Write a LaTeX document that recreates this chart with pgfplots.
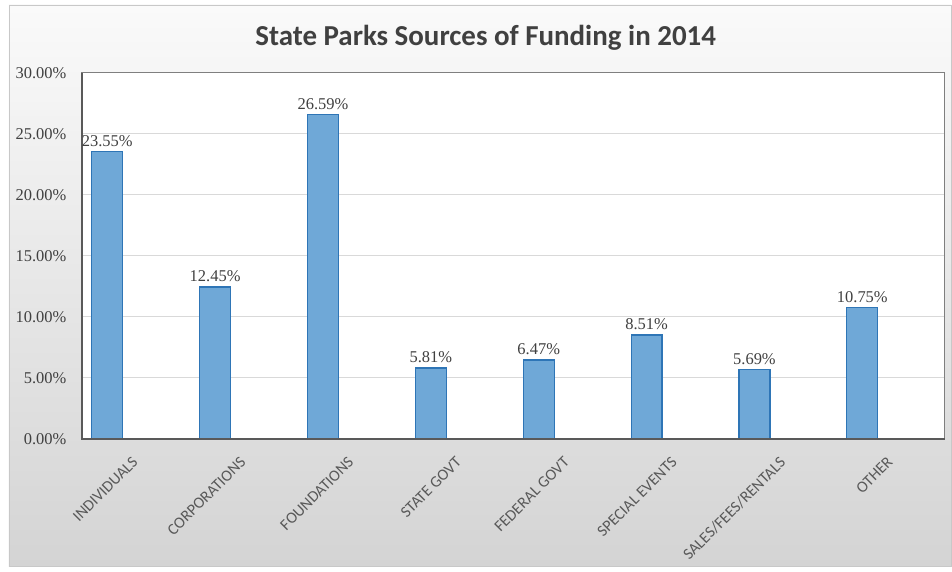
\documentclass[border=0pt]{standalone}
\usepackage{pgfplots}
\usepackage{pgfplotstable}
\pgfplotsset{compat=1.18}
\usepackage{fontspec}
\setmainfont{Liberation Serif}
\newfontfamily\carlito{Carlito}
\definecolor{barfill}{RGB}{111,168,215}
\definecolor{baredge}{RGB}{46,117,182}
\definecolor{txt}{RGB}{64,64,64}
\definecolor{xtxt}{RGB}{89,89,89}
\definecolor{gridc}{RGB}{217,217,217}
\definecolor{bgtop}{RGB}{250,250,250}
\definecolor{bgbot}{RGB}{212,212,212}
\pgfplotstableread{
x y lbl
0 23.55 23.55
1 12.45 12.45
2 26.59 26.59
3 5.81 5.81
4 6.47 6.47
5 8.51 8.51
6 5.69 5.69
7 10.75 10.75
}\fundtable
\begin{document}
\begin{tikzpicture}
% page / background (1pt = 1px of the reference)
\fill[white] (-82pt,-133pt) rectangle (870pt,440pt);
\shade[top color=bgtop, bottom color=bgbot, draw={rgb,255:red,200;green,200;blue,200}, line width=0.6pt]
  (-73pt,-128pt) rectangle (872pt,435pt);
\begin{axis}[
  at={(0,0)}, anchor=south west,
  scale only axis,
  width=865pt, height=367pt,
  xmin=-0.5, xmax=7.5,
  ymin=0, ymax=30,
  ytick={0,5,...,30},
  yticklabels={0.00\%,5.00\%,10.00\%,15.00\%,20.00\%,25.00\%,30.00\%},
  xtick={0,...,7},
  xticklabels={INDIVIDUALS,CORPORATIONS,FOUNDATIONS,STATE GOVT,FEDERAL GOVT,SPECIAL EVENTS,SALES/FEES/RENTALS,OTHER},
  major tick length=0pt,
  ymajorgrids,
  grid style={gridc, line width=1pt},
  axis line style={draw={rgb,255:red,127;green,127;blue,127}, line width=1pt},
  axis background/.style={fill=white},
  yticklabel style={font=\fontsize{16.5}{18}\selectfont, text=txt, anchor=east, xshift=-12pt},
  xticklabel style={font=\carlito\fontsize{16}{18}\selectfont, text=xtxt, xshift=-4.5pt, yshift=-12pt, rotate=45, anchor=north east},
  nodes near coords={\pgfplotspointmeta\%},
  nodes near coords style={font=\fontsize{16.5}{18}\selectfont, text=txt, anchor=south, yshift=1pt},
  point meta=explicit symbolic,
  clip=false,
]
\addplot[ybar, bar width=0.287, fill=barfill, draw=baredge, line width=1.2pt]
  table[x expr=\thisrow{x}-0.264, y=y, meta=lbl] {\fundtable};
\draw[draw={rgb,255:red,89;green,89;blue,89}, line width=1.8pt] (rel axis cs:0,1) -- (rel axis cs:0,0) -- (rel axis cs:1,0);
\node[font=\carlito\bfseries\fontsize{29}{32}\selectfont, text=txt] at ([yshift=35pt]rel axis cs:0.468,1) {State Parks Sources of Funding in 2014};
\end{axis}
\end{tikzpicture}
\end{document}
